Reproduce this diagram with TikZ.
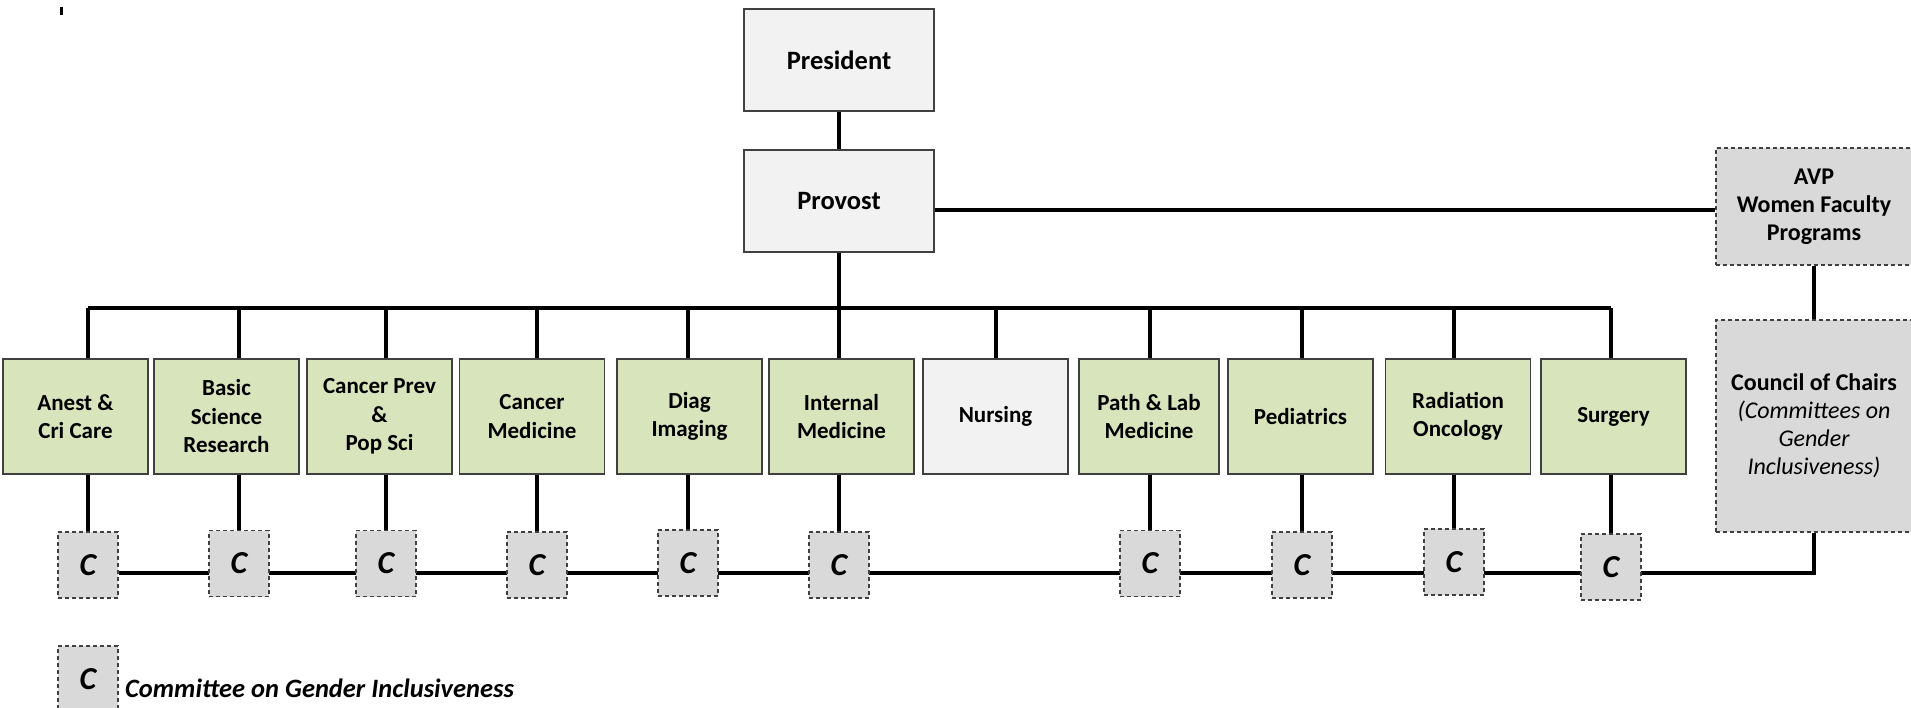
\documentclass[tikz,border=0pt]{standalone}
\usepackage{fontspec}
\setmainfont{Carlito}
\usetikzlibrary{positioning,backgrounds}
\definecolor{deptgreen}{HTML}{D8E4BC}
\definecolor{topgray}{HTML}{F2F2F2}
\definecolor{cgray}{HTML}{D9D9D9}
\definecolor{edgegray}{HTML}{404040}

\begin{document}
\begin{tikzpicture}[x=1pt, y=-1pt,
    office/.style={draw=edgegray, line width=1.5pt, fill=topgray, minimum width=190pt,
      minimum height=102pt, align=center, inner sep=0pt,
      font=\fontsize{26.5}{31}\selectfont\bfseries},
    dept/.style={draw=edgegray, line width=1.5pt, fill=deptgreen, minimum width=145pt,
      minimum height=115pt, align=center, inner sep=0pt,
      font=\fontsize{23}{28.5}\selectfont\bfseries},
    avpbox/.style={draw=edgegray, line width=1.2pt, dash pattern=on 4pt off 3pt,
      fill=cgray, minimum width=196pt, align=center, inner sep=0pt,
      font=\fontsize{24}{28}\selectfont\bfseries},
    cbox/.style={draw=edgegray, line width=1.2pt, dash pattern=on 4pt off 3pt,
      fill=cgray, minimum width=60pt, minimum height=66pt, inner sep=0pt,
      font=\fontsize{32}{32}\selectfont\bfseries\itshape},
    link/.style={line width=4pt, black}
  ]
    \useasboundingbox (0,0) rectangle (1911,708);
    \draw[line width=3pt] (61.5,7) -- (61.5,15);

    % top of the chart
    \node[office] (pres) at (839,60) {President};
    \node[office] (prov) at (839,201) {Provost};
    \node[avpbox, minimum height=117pt] (avp) at (1814,206.5)
      {AVP\\Women Faculty\\Programs};
    \node[avpbox, minimum height=212pt] (coun) at (1814,426)
      {Council of Chairs\\{\mdseries\itshape (Committees on}\\{\mdseries\itshape Gender}\\{\mdseries\itshape Inclusiveness)}};

    % departments
    \node[dept] (anest) at (75.5,416.5) {Anest \&\\Cri Care};
    \node[dept] (basic) at (226.5,416.5) {Basic\\Science\\Research};
    \node[dept] (prev) at (379.5,416.5) {Cancer Prev\\\&\\Pop Sci};
    \node[dept] (cmed) at (532,416.5) {Cancer\\Medicine};
    \node[dept] (diag) at (689.5,416.5) {Diag\\Imaging};
    \node[dept] (intm) at (841.5,416.5) {Internal\\Medicine};
    \node[dept, fill=topgray] (nurs) at (995.5,416.5) {Nursing};
    \node[dept, minimum width=140pt] (path) at (1149,416.5) {Path \& Lab\\Medicine};
    \node[dept] (peds) at (1300.5,416.5) {Pediatrics};
    \node[dept] (radi) at (1458,416.5) {Radiation\\Oncology};
    \node[dept] (surg) at (1613.5,416.5) {Surgery};

    % committees
    \node[cbox] (cA) at (88,565) {C};
    \node[cbox] (cB) at (239,563.5) {C};
    \node[cbox] (cC) at (386,563.5) {C};
    \node[cbox] (cD) at (537,565) {C};
    \node[cbox] (cE) at (688,563) {C};
    \node[cbox] (cF) at (839,565) {C};
    \node[cbox] (cH) at (1150,563.5) {C};
    \node[cbox] (cI) at (1302,565) {C};
    \node[cbox] (cJ) at (1454,562) {C};
    \node[cbox] (cK) at (1611,567) {C};

    % legend
    \node[cbox] (key) at (88,679) {C};
    \node[anchor=base west, inner sep=0pt, font=\fontsize{26.5}{30}\selectfont\bfseries\itshape]
      (keytext) at (125,697) {Committee on Gender Inclusiveness};

    \coordinate (bus) at (839,308);
    \coordinate (cbus) at (839,573);
    \coordinate (pa) at (839,210);

    \begin{scope}[on background layer]
      \draw[link] (pres) -- (prov);
      \draw[link] (prov.east |- pa) -- (avp.west |- pa);
      \draw[link] (avp) -- (coun);
      \draw[link] (prov.south) -- (prov.south |- bus);
      \draw[link] (cA.north |- bus) -- (cK.north |- bus);
      \draw[link] (nurs.north) -- (nurs.north |- bus);
      \foreach \c in {cA,cB,cC,cD,cE,cF,cH,cI,cJ,cK}
        \draw[link] (\c.north) -- (\c.north |- bus);
      \draw[link] (cA.east |- cbus) -| (coun.south);
    \end{scope}
  \end{tikzpicture}
\end{document}
